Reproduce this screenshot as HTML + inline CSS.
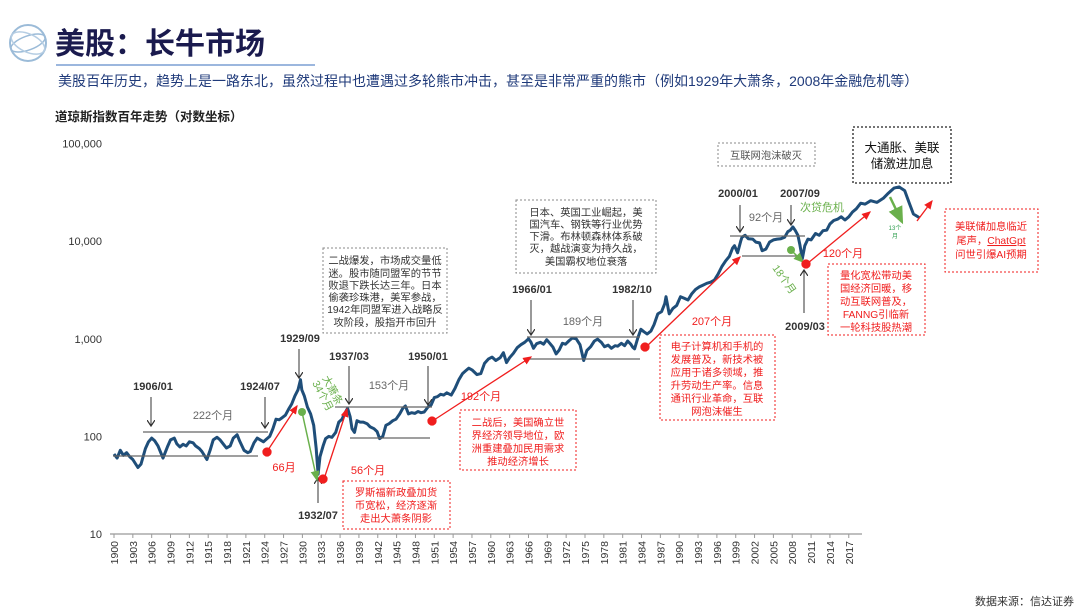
<!DOCTYPE html>
<html><head><meta charset="utf-8">
<style>
body{margin:0;background:#fff;}
svg{display:block;font-family:"Liberation Sans","Noto Sans CJK SC",sans-serif;}
.bk{font-weight:bold;font-size:11px;fill:#333;text-anchor:middle}
.gr{font-size:11px;fill:#666;text-anchor:middle}
.rd{font-size:11px;fill:#f01e1e;text-anchor:middle}
.bx{font-size:10.3px;text-anchor:middle}
</style></head><body>
<svg id="c" width="1080" height="611" viewBox="0 0 1080 611">
<defs>
<marker id="ak" markerWidth="8" markerHeight="8" refX="6" refY="4" orient="auto"><path d="M0,0 L6,4 L0,8" fill="none" stroke="#333" stroke-width="1.2"/></marker>
<marker id="ar" markerWidth="8" markerHeight="8" refX="6" refY="4" orient="auto"><path d="M0,1 L7,4 L0,7Z" fill="#f01e1e"/></marker>
<marker id="ag" markerWidth="8" markerHeight="8" refX="6" refY="4" orient="auto"><path d="M0,1 L7,4 L0,7Z" fill="#6ab04c"/></marker>
</defs>
<g>
<circle cx="28" cy="43" r="18" fill="none" stroke="#9bbbd8" stroke-width="2"/>
<ellipse cx="28" cy="43" rx="18" ry="7" fill="none" stroke="#9bbbd8" stroke-width="1.5" transform="rotate(-20 28 43)"/>
<ellipse cx="28" cy="43" rx="18" ry="9" fill="none" stroke="#b5cde3" stroke-width="1.5" transform="rotate(25 28 43)"/>
</g>
<text x="55" y="54" font-size="30" font-weight="bold" fill="#1a1a4e">美股：长牛市场</text>
<line x1="56" y1="65" x2="315" y2="65" stroke="#7c9fd4" stroke-width="1.5"/>
<text x="58" y="86" font-size="14" fill="#1f3a7a">美股百年历史，趋势上是一路东北，虽然过程中也遭遇过多轮熊市冲击，甚至是非常严重的熊市（例如1929年大萧条，2008年金融危机等）</text>
<text x="55" y="121" font-size="12.5" font-weight="bold" fill="#222">道琼斯指数百年走势（对数坐标）</text>
<g id="axes"></g>
<g id="series"></g>
<g id="ann">
<text class="bk" x="153" y="390">1906/01</text>
<line x1="151" y1="397" x2="151" y2="426" stroke="#333" marker-end="url(#ak)"/>
<text class="bk" x="260" y="390">1924/07</text>
<line x1="265" y1="397" x2="265" y2="428" stroke="#333" marker-end="url(#ak)"/>
<text class="bk" x="300" y="342">1929/09</text>
<line x1="299" y1="349" x2="299" y2="378" stroke="#333" marker-end="url(#ak)"/>
<text class="bk" x="318" y="519">1932/07</text>
<line x1="318" y1="503" x2="318" y2="478" stroke="#333" marker-end="url(#ak)"/>
<text class="bk" x="349" y="360">1937/03</text>
<line x1="349" y1="366" x2="349" y2="404" stroke="#333" marker-end="url(#ak)"/>
<text class="bk" x="428" y="360">1950/01</text>
<line x1="428" y1="366" x2="428" y2="405" stroke="#333" marker-end="url(#ak)"/>
<text class="bk" x="532" y="293">1966/01</text>
<line x1="531" y1="300" x2="531" y2="335" stroke="#333" marker-end="url(#ak)"/>
<text class="bk" x="632" y="293">1982/10</text>
<line x1="633" y1="300" x2="633" y2="335" stroke="#333" marker-end="url(#ak)"/>
<text class="bk" x="738" y="197">2000/01</text>
<line x1="740" y1="205" x2="740" y2="232" stroke="#333" marker-end="url(#ak)"/>
<text class="bk" x="800" y="197">2007/09</text>
<line x1="791" y1="205" x2="791" y2="225" stroke="#333" marker-end="url(#ak)"/>
<text class="bk" x="805" y="330">2009/03</text>
<line x1="804" y1="313" x2="804" y2="270" stroke="#333" marker-end="url(#ak)"/>
<g stroke="#666" stroke-width="1.2">
<line x1="143" y1="432" x2="268" y2="432"/><line x1="113" y1="456" x2="258" y2="456"/>
<line x1="335" y1="407" x2="432" y2="407"/><line x1="350" y1="438" x2="430" y2="438"/>
<line x1="527" y1="337" x2="640" y2="337"/><line x1="527" y1="359" x2="640" y2="359"/>
<line x1="730" y1="236" x2="805" y2="236"/><line x1="742" y1="256" x2="800" y2="256"/>
</g>
<text class="gr" x="213" y="419">222个月</text>
<text class="gr" x="389" y="389">153个月</text>
<text class="gr" x="583" y="325">189个月</text>
<text class="gr" x="766" y="221">92个月</text>
<text x="800" y="211" font-size="11" fill="#6ab04c">次贷危机</text>
<circle cx="302" cy="412" r="4" fill="#6ab04c"/>
<line x1="302" y1="412" x2="317" y2="480" stroke="#6ab04c" stroke-width="1.5" marker-end="url(#ag)"/>
<text x="322" y="378" font-size="10.5" fill="#6ab04c" transform="rotate(62 322 378)">大萧条</text>
<text x="312" y="383" font-size="10.5" fill="#6ab04c" transform="rotate(62 312 383)">34个月</text>
<circle cx="791" cy="250" r="4" fill="#6ab04c"/>
<line x1="791" y1="250" x2="803" y2="262" stroke="#6ab04c" stroke-width="1.5" marker-end="url(#ag)"/>
<text x="772" y="268" font-size="10.5" fill="#6ab04c" transform="rotate(55 772 268)">18个月</text>
<line x1="890" y1="197" x2="902" y2="222" stroke="#6ab04c" stroke-width="2.5" marker-end="url(#ag)"/>
<text x="895" y="230" font-size="6" fill="#2e9e4e" text-anchor="middle">13个</text>
<text x="895" y="238" font-size="6" fill="#2e9e4e" text-anchor="middle">月</text>
<g stroke="#f01e1e" stroke-width="1.3" fill="#f01e1e">
<line x1="268" y1="450" x2="297" y2="406" marker-end="url(#ar)"/><circle cx="267" cy="452" r="4"/>
<line x1="325" y1="476" x2="347" y2="409" marker-end="url(#ar)"/><circle cx="323" cy="479" r="4"/>
<line x1="434" y1="420" x2="531" y2="357" marker-end="url(#ar)"/><circle cx="432" cy="421" r="4"/>
<line x1="647" y1="346" x2="740" y2="257" marker-end="url(#ar)"/><circle cx="645" cy="347" r="4"/>
<line x1="808" y1="263" x2="870" y2="212" marker-end="url(#ar)"/><circle cx="806" cy="264" r="4"/>
<line x1="917" y1="221" x2="932" y2="201" marker-end="url(#ar)"/>
</g>
<text class="rd" x="284" y="471">66月</text>
<text class="rd" x="368" y="474">56个月</text>
<text class="rd" x="481" y="400">192个月</text>
<text class="rd" x="712" y="325">207个月</text>
<text class="rd" x="843" y="257">120个月</text>
<g fill="none" stroke-dasharray="2,2">
<rect x="323" y="248" width="124" height="85" stroke="#888"/>
<rect x="516" y="200" width="140" height="73" stroke="#888"/>
<rect x="718" y="143" width="97" height="23" stroke="#888"/>
<rect x="853" y="127" width="98" height="56" stroke="#222" stroke-width="1.3"/>
<rect x="343" y="481" width="107" height="48" stroke="#f01e1e"/>
<rect x="460" y="410" width="116" height="60" stroke="#f01e1e"/>
<rect x="660" y="335" width="115" height="85" stroke="#f01e1e"/>
<rect x="828" y="264" width="97" height="71" stroke="#f01e1e"/>
<rect x="945" y="209" width="93" height="63" stroke="#f01e1e"/>
</g>
<g class="bx" fill="#333">
<text x="385" y="264">二战爆发，市场成交量低</text><text x="385" y="277">迷。股市随同盟军的节节</text><text x="385" y="289">败退下跌长达三年。日本</text><text x="385" y="301">偷袭珍珠港，美军参战，</text><text x="385" y="313">1942年同盟军进入战略反</text><text x="385" y="326">攻阶段，股指开市回升</text>
<text x="586" y="216">日本、英国工业崛起，美</text><text x="586" y="228">国汽车、钢铁等行业优势</text><text x="586" y="240">下滑。布林顿森林体系破</text><text x="586" y="252">灭，越战演变为持久战，</text><text x="586" y="265">美国霸权地位衰落</text>
<text x="766" y="159" fill="#555">互联网泡沫破灭</text>
</g>
<text x="902" y="152" font-size="12.5" fill="#111" text-anchor="middle">大通胀、美联</text>
<text x="902" y="168" font-size="12.5" fill="#111" text-anchor="middle">储激进加息</text>
<g class="bx" fill="#f01e1e">
<text x="396" y="496">罗斯福新政叠加货</text><text x="396" y="509">币宽松，经济逐渐</text><text x="396" y="522">走出大萧条阴影</text>
<text x="518" y="426">二战后，美国确立世</text><text x="518" y="439">界经济领导地位，欧</text><text x="518" y="452">洲重建叠加民用需求</text><text x="518" y="465">推动经济增长</text>
<text x="717" y="350">电子计算机和手机的</text><text x="717" y="363">发展普及，新技术被</text><text x="717" y="376">应用于诸多领域，推</text><text x="717" y="389">升劳动生产率。信息</text><text x="717" y="402">通讯行业革命，互联</text><text x="717" y="415">网泡沫催生</text>
<text x="876" y="279">量化宽松带动美</text><text x="876" y="292">国经济回暖，移</text><text x="876" y="305">动互联网普及，</text><text x="876" y="318">FANNG引临新</text><text x="876" y="331">一轮科技股热潮</text>
<text x="991" y="230">美联储加息临近</text><text x="991" y="244">尾声，<tspan text-decoration="underline">ChatGpt</tspan></text><text x="991" y="258">问世引爆AI预期</text>
</g>
</g>
<text x="975" y="605" font-size="11" fill="#333">数据来源：信达证券</text>
</svg>
<script>
const years=[1900,1900.5,1901,1901.5,1902,1902.5,1903,1903.8,1904.3,1905,1905.5,1906,1906.5,1907,1907.8,1908.5,1909,1909.6,1910,1910.5,1911,1911.5,1912,1912.6,1913,1913.6,1914,1914.8,1915.3,1915.8,1916.4,1916.9,1917.5,1917.9,1918.5,1919,1919.6,1920,1920.7,1921.3,1921.7,1922.3,1922.8,1923.3,1923.8,1924.3,1924.8,1925.3,1925.8,1926.3,1926.8,1927.3,1927.8,1928.3,1928.8,1929.3,1929.7,1929.9,1930.3,1930.8,1931.3,1931.8,1932.2,1932.5,1932.8,1933.3,1933.7,1934.2,1934.7,1935.3,1935.8,1936.3,1936.8,1937.2,1937.6,1937.9,1938.3,1938.7,1939.2,1939.7,1940.3,1940.8,1941.4,1941.9,1942.3,1942.8,1943.3,1943.8,1944.4,1944.9,1945.5,1946,1946.4,1946.9,1947.4,1947.9,1948.4,1948.9,1949.4,1950,1950.5,1951,1951.5,1952,1952.5,1953,1953.7,1954.3,1954.9,1955.5,1956,1956.5,1957,1957.8,1958.4,1959,1959.6,1960.2,1960.8,1961.5,1962,1962.5,1963,1963.6,1964.2,1964.8,1965.4,1966,1966.4,1966.8,1967.3,1967.9,1968.4,1968.9,1969.4,1969.9,1970.4,1970.9,1971.4,1971.9,1972.5,1973,1973.6,1974.2,1974.8,1975.3,1975.9,1976.5,1977,1977.6,1978.1,1978.7,1979.2,1979.8,1980.2,1980.8,1981.3,1981.8,1982.3,1982.6,1982.9,1983.4,1983.9,1984.4,1984.9,1985.5,1986,1986.6,1987.2,1987.7,1987.9,1988.4,1989,1989.6,1990.2,1990.8,1991.4,1992,1992.6,1993.2,1993.8,1994.4,1995,1995.6,1996.2,1996.8,1997.4,1998,1998.5,1998.8,1999.3,1999.8,2000,2000.5,2001,2001.7,2002.2,2002.8,2003.2,2003.8,2004.4,2005,2005.6,2006.2,2006.8,2007.3,2007.7,2008.1,2008.5,2008.9,2009.2,2009.6,2010,2010.5,2011,2011.7,2012.3,2012.9,2013.5,2014,2014.6,2015.2,2015.8,2016.4,2017,2017.6,2018.2,2018.9,2019.6,2020.5,2021.5,2022.5,2023.3,2024.2,2025,2025.9,2026.6,2027.3,2028.2];
const values=[66,60,72,64,68,62,58,48,52,75,88,96,90,80,60,78,92,96,84,78,83,80,88,86,80,75,70,58,72,92,98,92,82,76,80,96,104,90,72,68,70,86,96,92,88,94,100,120,150,148,156,165,190,215,260,300,381,300,260,200,170,130,75,41,62,80,95,100,98,110,140,150,175,194,160,120,110,145,140,140,135,125,120,112,95,100,130,135,145,150,170,195,205,170,175,172,180,175,178,200,210,250,255,270,265,280,265,310,380,440,470,500,480,430,440,560,620,650,600,640,720,570,640,710,810,870,920,1000,920,800,890,920,880,980,900,820,700,770,900,880,960,1020,1000,870,600,760,830,950,990,920,830,860,800,850,840,900,850,950,880,820,790,1020,1250,1180,1120,1200,1400,1800,1900,2300,2700,1800,2050,2200,2700,2600,2500,2900,3200,3400,3550,3700,3800,4000,4600,5500,6300,7000,8500,9000,7600,10000,11000,11500,10600,10500,9800,9600,8000,8300,9800,10300,10500,10600,11000,12500,13000,14000,12800,11500,9300,6600,9000,10500,10300,12000,11500,12800,13000,15000,16300,16800,17800,16500,17800,19900,21500,24500,24000,26000,25000,27500,31000,35000,36000,33000,25000,19000,17500,20000,24000,28000];
const yTicks=[10,100,1000,10000,100000];
const yTickLabels=["10","100","1,000","10,000","100,000"];
const xTicks=[1900,1903,1906,1909,1912,1915,1918,1921,1924,1927,1930,1933,1936,1939,1942,1945,1948,1951,1954,1957,1960,1963,1966,1969,1972,1975,1978,1981,1984,1987,1990,1993,1996,1999,2002,2005,2008,2011,2014,2017];
const NS="http://www.w3.org/2000/svg";
const X=y=>114+(y-1900)*6.28;
const Y=v=>534-97.6*Math.log10(v/10);
const ax=document.getElementById('axes');
function mk(tag,attrs,parent){const e=document.createElementNS(NS,tag);for(const k in attrs)e.setAttribute(k,attrs[k]);parent.appendChild(e);return e;}
const xl=mk('line',{x1:110,y1:534,x2:862,y2:534,stroke:'#999','stroke-width':1.2},ax);


yTicks.forEach((v,i)=>{const t=mk('text',{x:102,y:Y(v)+4,'font-size':11,fill:'#333','text-anchor':'end'},ax);t.textContent=yTickLabels[i];

});
xTicks.forEach(yr=>{const x=X(yr);mk('line',{x1:x,y1:534,x2:x,y2:538,stroke:'#999'},ax);
const t=mk('text',{x:x+4,y:541,'font-size':10.5,fill:'#333','text-anchor':'end',transform:`rotate(-90 ${x+4} 541)`},ax);t.textContent=yr;

});
const d=years.map((yr,i)=>(i?'L':'M')+X(yr).toFixed(1)+','+Y(values[i]).toFixed(1)).join(' ');
const p=mk('path',{d:d,fill:'none',stroke:'#1f4e79','stroke-width':3,'stroke-linejoin':'round'},document.getElementById('series'));


</script>
</body></html>
